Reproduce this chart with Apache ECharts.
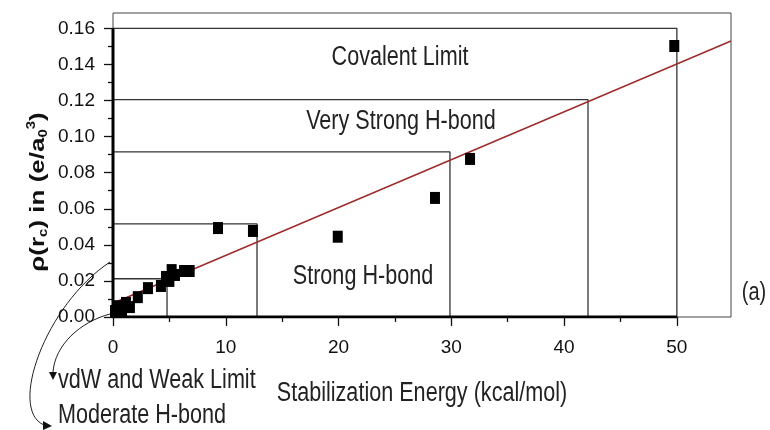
<!DOCTYPE html>
<html><head><meta charset="utf-8">
<script src="https://cdn.jsdelivr.net/npm/echarts@6/dist/echarts.min.js"></script>
<style>html,body{margin:0;padding:0;background:#fff}#c{width:770px;height:430px}</style>
</head><body><div id="c"></div>
<script>
// ---- data ----
const energyX = [0.18, 0.5, 0.8, 1.15, 1.5, 2.2, 3.1, 4.25, 4.7, 5.0, 5.2, 5.5, 6.3, 6.8, 9.31, 12.41, 19.93, 28.55, 31.66, 49.77];
const densityY = [0.0033, 0.006, 0.0028, 0.0078, 0.0055, 0.011, 0.016, 0.0172, 0.0222, 0.020, 0.026, 0.0233, 0.0255, 0.0255, 0.0493, 0.0477, 0.0445, 0.0660, 0.0876, 0.1502];
const fitX = [0, 54.8];
const fitY = [0.0076, 0.1530];
const regionNames = ['vdW and Weak Limit', 'Moderate H-bond', 'Strong H-bond', 'Very Strong H-bond', 'Covalent Limit'];
const regionX = [4.79, 12.77, 29.88, 42.12, 50.0];
const regionY = [0.0212, 0.0516, 0.0915, 0.1205, 0.160];
const xTickValues = [0, 10, 20, 30, 40, 50];
const xMinorTicks = [5, 15, 25, 35, 45, 55];
const yTickValues = [0, 0.02, 0.04, 0.06, 0.08, 0.10, 0.12, 0.14, 0.16];
const yMinorTicks = [0.01, 0.03, 0.05, 0.07, 0.09, 0.11, 0.13, 0.15];
const xTitle = 'Stabilization Energy (kcal/mol)';
const panelTag = '(a)';

const SANS = "'Liberation Sans', Arial, sans-serif";
const X_MAX = 54.8, Y_MAX = 0.1685;

const chart = echarts.init(document.getElementById('c'), null, {renderer: 'canvas'});

const boxSeries = regionX.map((xr, i) => ({
  type: 'line', silent: true, symbol: 'none', z: 2,
  data: [[0, regionY[i]], [xr, regionY[i]], [xr, 0]],
  lineStyle: {color: '#333', width: 1.3}
}));

function xAxisDef(vals, len, labels) {
  return {
    type: 'value', min: 0, max: X_MAX, position: 'bottom',
    axisLine: {show: false},
    splitLine: {show: false},
    axisTick: {show: true, inside: false, length: len, customValues: vals, lineStyle: {color: '#111', width: 1.3}},
    axisLabel: {show: labels, customValues: vals, margin: 21, fontFamily: SANS, fontSize: 19, color: '#111'}
  };
}
function yAxisDef(vals, len, labels) {
  return {
    type: 'value', min: 0, max: Y_MAX, position: 'left',
    axisLine: {show: false},
    splitLine: {show: false},
    axisTick: {show: true, inside: false, length: len, customValues: vals, lineStyle: {color: '#111', width: 1.3}},
    axisLabel: {show: labels, customValues: vals, margin: 18, fontFamily: SANS, fontSize: 19, color: '#111',
      formatter: v => v.toFixed(2)}
  };
}

const option = {
  animation: false,
  backgroundColor: '#fff',
  grid: {left: 113, right: 39, top: 13, bottom: 113, show: true, borderColor: '#444', borderWidth: 1, backgroundColor: 'transparent'},
  xAxis: [xAxisDef(xTickValues, 9, true), xAxisDef(xMinorTicks, 5, false)],
  yAxis: [yAxisDef(yTickValues, 9, true), yAxisDef(yMinorTicks, 5, false)],
  series: [
    ...boxSeries,
    {
      type: 'line', silent: true, symbol: 'none', z: 3,
      data: fitX.map((x, i) => [x, fitY[i]]),
      lineStyle: {color: '#9e2b2b', width: 1.5}
    },
    {
      type: 'line', silent: true, symbol: 'none', z: 4,
      data: [[0, regionY[4]], [0, 0], [regionX[4], 0]],
      lineStyle: {color: '#000', width: 3}
    },
    {
      type: 'scatter', z: 5, symbol: 'rect', symbolSize: [10, 12],
      itemStyle: {color: '#000', opacity: 1},
      data: energyX.map((x, i) => [x, densityY[i]])
    }
  ],
  graphic: [
    {type: 'text', x: 400, y: 58, scaleX: 0.8, style: {text: regionNames[4], fontFamily: SANS, fontSize: 27, fill: '#222', align: 'center', verticalAlign: 'middle'}},
    {type: 'text', x: 401, y: 122, scaleX: 0.8, style: {text: regionNames[3], fontFamily: SANS, fontSize: 27, fill: '#222', align: 'center', verticalAlign: 'middle'}},
    {type: 'text', x: 363, y: 277, scaleX: 0.8, style: {text: regionNames[2], fontFamily: SANS, fontSize: 27, fill: '#222', align: 'center', verticalAlign: 'middle'}},
    {type: 'text', x: 58, y: 381, scaleX: 0.8, style: {text: regionNames[0], fontFamily: SANS, fontSize: 27, fill: '#222', align: 'left', verticalAlign: 'middle'}},
    {type: 'text', x: 58, y: 416, scaleX: 0.8, style: {text: regionNames[1], fontFamily: SANS, fontSize: 27, fill: '#222', align: 'left', verticalAlign: 'middle'}},
    {type: 'text', x: 422, y: 394, scaleX: 0.8, style: {text: xTitle, fontFamily: SANS, fontSize: 27, fill: '#222', align: 'center', verticalAlign: 'middle'}},
    {type: 'text', x: 754, y: 293, scaleX: 0.8, style: {text: panelTag, fontFamily: SANS, fontSize: 25, fill: '#222', align: 'center', verticalAlign: 'middle'}},
    {type: 'text', x: 38, y: 192, rotation: Math.PI / 2, scaleY: 0.8, style: {
      text: '{b|ρ(r}{sub|c}{b|) in (e/a}{sub|0}{sup|3}{b|)}',
      align: 'center', verticalAlign: 'middle',
      rich: {
        b: {fontFamily: SANS, fontSize: 26, fontWeight: 'bold', fill: '#111', lineHeight: 30, verticalAlign: 'middle'},
        sub: {fontFamily: SANS, fontSize: 15, fontWeight: 'bold', fill: '#111', lineHeight: 30, verticalAlign: 'bottom'},
        sup: {fontFamily: SANS, fontSize: 15, fontWeight: 'bold', fill: '#111', lineHeight: 30, verticalAlign: 'top'}
      }
    }},
    {type: 'bezierCurve', shape: {x1: 110, y1: 314, cpx1: 80, cpy1: 322, cpx2: 55, cpy2: 345, x2: 53, y2: 372}, style: {stroke: '#222', lineWidth: 1, fill: null}},
    {type: 'polygon', shape: {points: [[49, 372], [57, 372], [53, 380]]}, style: {fill: '#111'}},
    {type: 'bezierCurve', shape: {x1: 110, y1: 262, cpx1: 45, cpy1: 305, cpx2: 8, cpy2: 410, x2: 44, y2: 425}, style: {stroke: '#222', lineWidth: 1, fill: null}},
    {type: 'polygon', shape: {points: [[43, 421], [43, 430], [52, 426]]}, style: {fill: '#111'}}
  ]
};
chart.setOption(option);
</script>
</body></html>
